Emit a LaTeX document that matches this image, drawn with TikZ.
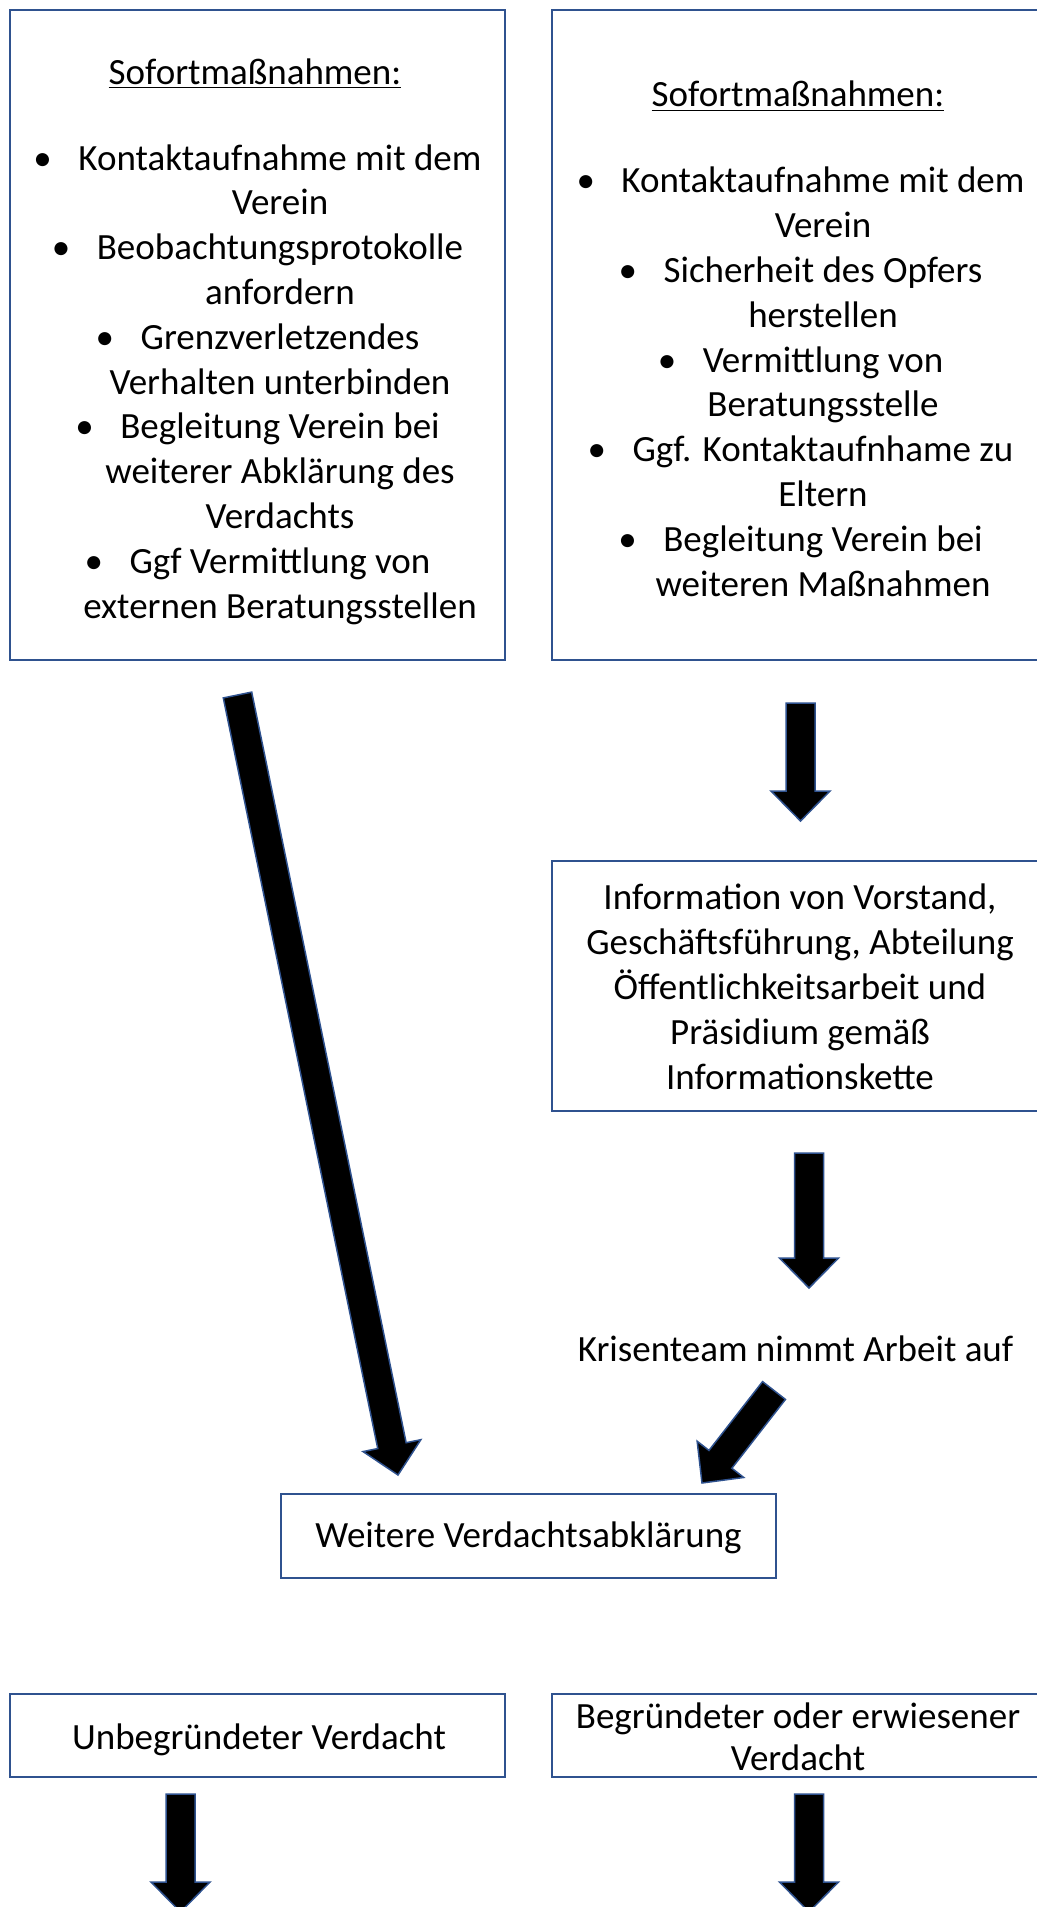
\documentclass[tikz,border=0pt]{standalone}
\usepackage{fontspec}
\setmainfont{Carlito}
\usetikzlibrary{calc}
\definecolor{boxblue}{HTML}{2F528F}
\newcommand\bulitem{\makebox[25pt][l]{\hspace{2.5pt}•}}
\newcommand\contind{\hspace*{25pt}}
% block arrow from coordinate #1 (tail centre) to coordinate #2 (tip)
\newcommand\fatarrow[2]{%
  \coordinate (fab) at ($(#2)!15pt!(#1)$);
  \filldraw[blockarrow]
    ($(#1)!7.25pt!90:(#2)$) -- ($(fab)!7.25pt!-90:(#1)$) -- ($(fab)!14.75pt!-90:(#1)$) -- (#2)
    -- ($(fab)!14.75pt!90:(#1)$) -- ($(fab)!7.25pt!90:(#1)$) -- ($(#1)!7.25pt!-90:(#2)$) -- cycle;
}
\tikzset{
  box/.style={draw=boxblue, line width=1pt, rectangle, inner sep=0pt, outer sep=0pt},
  txt/.style={font=\fontsize{18.5pt}{22.4pt}\selectfont, align=center, inner sep=0pt, anchor=base},
  blockarrow/.style={fill=black, draw=boxblue, line width=0.75pt, line join=miter},
}
\begin{document}
\begin{tikzpicture}[x=0.5pt,y=-0.5pt]
\useasboundingbox (0,0) rectangle (1037,1907);
\fill[white] (0,0) rectangle (1037,1907);
\clip (0,0) rectangle (1037,1907);

% boxes
\node[box, minimum width=247.5pt, minimum height=325pt] (lbox) at (257.5,335) {};
\node[box, minimum width=249pt, minimum height=325pt] (rbox) at (801,335) {};
\node[box, minimum width=249pt, minimum height=125pt] (info) at (801,986) {};
\node[box, minimum width=247.5pt, minimum height=42pt] (weit) at (528.5,1536) {};
\node[box, minimum width=247.5pt, minimum height=41.5pt] (unbeg) at (257.5,1735.5) {};
\node[box, minimum width=249pt, minimum height=41.5pt] (begr) at (801,1735.5) {};

% texts (anchor = baseline of the last line)
\node[txt] (ltext) at (255,618) {\underline{Sofortmaßnahmen:}\\[20.6pt]
  \bulitem Kontaktaufnahme mit dem\\ \contind Verein\\
  \bulitem Beobachtungsprotokolle\\ \contind anfordern\\
  \bulitem Grenzverletzendes\\ \contind Verhalten unterbinden\\
  \bulitem Begleitung Verein bei\\ \contind weiterer Abklärung des\\ \contind Verdachts\\
  \bulitem Ggf Vermittlung von\\ \contind externen Beratungsstellen};
\node[txt] (rtext) at (798,596) {\underline{Sofortmaßnahmen:}\\[20.6pt]
  \bulitem Kontaktaufnahme mit dem\\ \contind Verein\\
  \bulitem Sicherheit des Opfers\\ \contind herstellen\\
  \bulitem Vermittlung von\\ \contind Beratungsstelle\\
  \bulitem Ggf. Kontaktaufnhame zu\\ \contind Eltern\\
  \bulitem Begleitung Verein bei\\ \contind weiteren Maßnahmen};
\node[txt] (infotext) at (800,1089) {Information von Vorstand,\\ Geschäftsführung, Abteilung\\ Öffentlichkeitsarbeit und\\ Präsidium gemäß\\ Informationskette};
\node[txt] (kris) at (795.5,1361) {Krisenteam nimmt Arbeit auf};
\node[txt] (weittext) at (528.5,1547) {Weitere Verdachtsabklärung};
\node[txt] (unbegtext) at (259,1749) {Unbegründeter Verdacht};
\node[txt, font=\fontsize{18.5pt}{21pt}\selectfont] (begrtext) at (798,1770) {Begründeter oder erwiesener\\ Verdacht};

% arrow end points
\coordinate (a1s) at (237.5,695);  \coordinate (a1t) at (398,1475);
\coordinate (a2s) at (800.5,703);  \coordinate (a2t) at (800.5,821);
\coordinate (a3s) at (809,1153);   \coordinate (a3t) at (809,1288);
\coordinate (a4s) at (774,1390.5); \coordinate (a4t) at (702,1483);
\coordinate (a5s) at (180.5,1794); \coordinate (a5t) at (180.5,1912);
\coordinate (a6s) at (809,1794);   \coordinate (a6t) at (809,1912);

\fatarrow{a1s}{a1t}
\fatarrow{a2s}{a2t}
\fatarrow{a3s}{a3t}
\fatarrow{a4s}{a4t}
\fatarrow{a5s}{a5t}
\fatarrow{a6s}{a6t}
\end{tikzpicture}
\end{document}
